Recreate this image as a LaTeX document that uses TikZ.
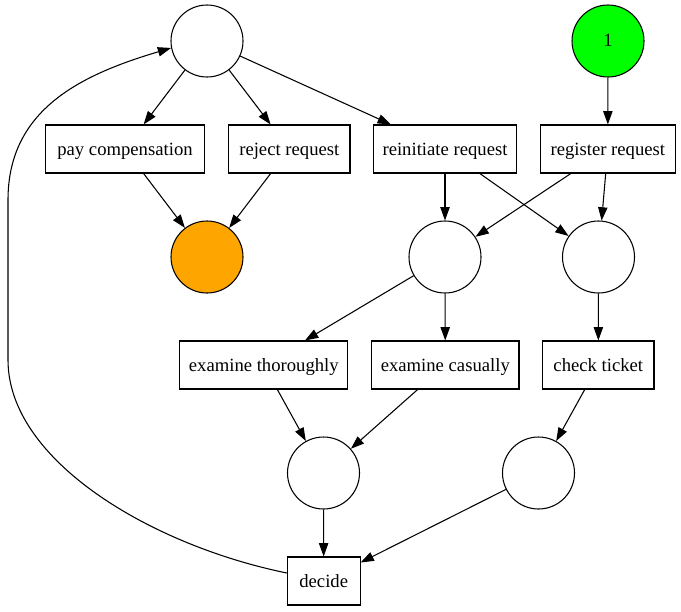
\documentclass[tikz,border=0pt]{standalone}
\usepackage{fontspec}
\setmainfont{Liberation Serif}
\usetikzlibrary{arrows.meta,calc}
\definecolor{startgreen}{HTML}{00FF00}
\definecolor{endorange}{HTML}{FFA500}
\begin{document}
\begin{tikzpicture}[x=0.75pt,y=-0.75pt,
  place/.style={circle,draw,line width=0.8pt,minimum size=54pt,inner sep=0pt,text height=11pt,text depth=3.5pt},
  trans/.style={rectangle,draw,line width=0.8pt,minimum height=36pt,inner sep=0pt,text height=12.4pt,text depth=3pt},
  arc/.style={-{Triangle[length=10pt,width=7pt]},line width=0.8pt},
  font=\fontsize{14}{16}\selectfont]
\useasboundingbox (0,0) rectangle (681,611);
% places
\node[place] (ptop) at (207,41) {};
\node[place,fill=startgreen] (pstart) at (608,41) {1};
\node[place,fill=endorange] (pend) at (207,257) {};
\node[place] (pm1) at (445,257) {};
\node[place] (pm2) at (598.5,257) {};
\node[place] (pl1) at (323.5,473) {};
\node[place] (pl2) at (538.5,473) {};
% transitions
\node[trans,minimum width=119pt] (pay) at (125,149) {pay compensation};
\node[trans,minimum width=91pt] (reject) at (289.3,149) {reject request};
\node[trans,minimum width=107.5pt] (reinit) at (445,149) {reinitiate request};
\node[trans,minimum width=101.3pt] (register) at (607.8,149) {register request};
\node[trans,minimum width=125.8pt] (exthor) at (263.8,365) {examine thoroughly};
\node[trans,minimum width=110.5pt] (excas) at (445.3,365) {examine casually};
\node[trans,minimum width=83.5pt] (check) at (598.3,365) {check ticket};
\node[trans,minimum width=54.5pt] (decide) at (323.7,581) {decide};
% arcs
\draw[arc] (ptop) -- (pay);
\draw[arc] (ptop) -- (reject);
\draw[arc] (ptop) -- (reinit);
\draw[arc] (pstart) -- (register);
\draw[arc] (pay) -- (pend);
\draw[arc] (reject) -- (pend);
\draw[arc] (reinit) -- (pm1);
\draw[arc] (reinit) -- (pm2);
\draw[arc] (register) -- (pm1);
\draw[arc] (register) -- (pm2);
\draw[arc] (pm1) -- (exthor);
\draw[arc] (pm1) -- (excas);
\draw[arc] (pm2) -- (check);
\draw[arc] (exthor) -- (pl1);
\draw[arc] (excas) -- (pl1);
\draw[arc] (check) -- (pl2);
\draw[arc] (pl1) -- (decide);
\draw[arc] (pl2) -- (decide);
\draw[arc] ($(decide.west)+(0,-8)$) .. controls (150,545) and (8,460) .. (8,360)
  -- (8,200) .. controls (8,110) and (80,75) .. (ptop.191);
\end{tikzpicture}
\end{document}
